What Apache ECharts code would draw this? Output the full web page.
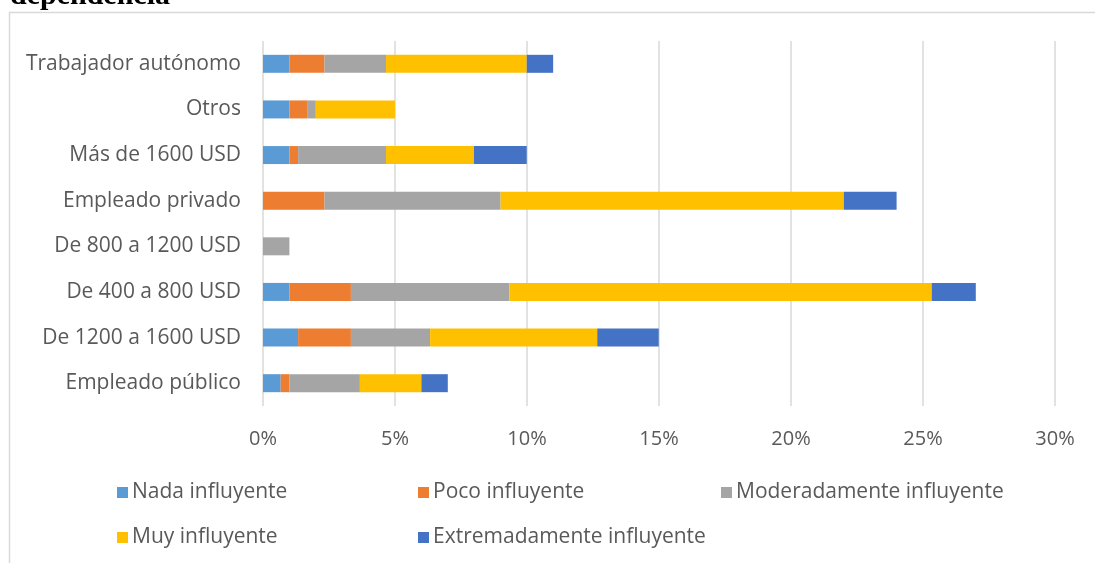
<!DOCTYPE html>
<html>
<head>
<meta charset="utf-8">
<title>Influencia por tipo de empleo e ingreso</title>
<script src="https://cdn.jsdelivr.net/npm/echarts@6/dist/echarts.min.js"></script>
<style>
  html, body { margin: 0; padding: 0; background: #ffffff; }
  #chart { width: 1095px; height: 563px; }
</style>
</head>
<body>
<div id="chart"></div>
<script>
// Categories listed from the bottom of the chart to the top
const categories = [
  'Empleado público',
  'De 1200 a 1600 USD',
  'De 400 a 800 USD',
  'De 800 a 1200 USD',
  'Empleado privado',
  'Más de 1600 USD',
  'Otros',
  'Trabajador autónomo'
];

// Shares (%) per level of influence, same order as categories
const nadaInfluyente          = [0.67, 1.33, 1.00, 0,    0,     1.00, 1.00, 1.00];
const pocoInfluyente          = [0.33, 2.00, 2.33, 0,    2.33,  0.33, 0.67, 1.33];
const moderadamenteInfluyente = [2.67, 3.00, 6.00, 1.00, 6.67,  3.33, 0.33, 2.33];
const muyInfluyente           = [2.33, 6.33, 16.0, 0,    13.00, 3.33, 3.00, 5.33];
const extremadamenteInfluyente= [1.00, 2.33, 1.67, 0,    2.00,  2.00, 0,    1.00];

const seriesNames = [
  'Nada influyente',
  'Poco influyente',
  'Moderadamente influyente',
  'Muy influyente',
  'Extremadamente influyente'
];
const seriesData = [
  nadaInfluyente,
  pocoInfluyente,
  moderadamenteInfluyente,
  muyInfluyente,
  extremadamenteInfluyente
];
const seriesColors = ['#5B9BD5', '#ED7D31', '#A5A5A5', '#FFC000', '#4472C4'];

// Percentage axis
const xMin = 0, xMax = 30, xStep = 5;

const labelFont = '"Open Sans", "Noto Sans", sans-serif';
const textGray = '#595959';

const chart = echarts.init(document.getElementById('chart'), null, { renderer: 'canvas' });

// Legend laid out in fixed columns, two rows
const legendSlots = [
  { left: 117, top: 482 },
  { left: 418, top: 482 },
  { left: 721, top: 482 },
  { left: 117, top: 527 },
  { left: 418, top: 527 }
];

const legends = seriesNames.map((name, i) => ({
  data: [name],
  left: legendSlots[i].left,
  top: legendSlots[i].top,
  padding: 0,
  orient: 'horizontal',
  icon: 'rect',
  itemWidth: 11,
  itemHeight: 11,
  itemGap: 5,
  selectedMode: false,
  textStyle: { color: textGray, fontSize: 21, fontFamily: labelFont, padding: [0, 0, 0, -1] }
}));

chart.setOption({
  animation: false,
  backgroundColor: '#ffffff',
  graphic: [
    {
      type: 'rect',
      shape: { x: 9.5, y: 12.5, width: 1200, height: 700 },
      style: { fill: null, stroke: '#d9d9d9', lineWidth: 1.5 },
      silent: true,
      z: 0
    },
    {
      type: 'text',
      left: 10,
      top: -19,
      style: {
        text: 'dependencia',
        font: 'bold 30px "Liberation Serif", "DejaVu Serif", serif',
        fill: '#000000'
      },
      silent: true
    }
  ],
  legend: legends,
  grid: {
    left: 263,
    right: 40,
    top: 41,
    bottom: 157,
    containLabel: false
  },
  xAxis: {
    type: 'value',
    min: xMin,
    max: xMax,
    interval: xStep,
    axisLine: { show: false },
    axisTick: { show: false },
    splitLine: { show: true, lineStyle: { color: '#d9d9d9', width: 1.5 } },
    axisLabel: {
      formatter: '{value}%',
      color: textGray,
      fontSize: 20,
      fontFamily: labelFont,
      margin: 23
    }
  },
  yAxis: {
    type: 'category',
    data: categories,
    axisLine: { show: false },
    axisTick: { show: false },
    splitLine: { show: false },
    axisLabel: {
      color: textGray,
      fontSize: 21,
      fontFamily: labelFont,
      margin: 22,
      padding: [3, 0, 0, 0]
    }
  },
  series: seriesNames.map((name, i) => ({
    name: name,
    type: 'bar',
    stack: 'total',
    data: seriesData[i],
    barWidth: 18,
    itemStyle: { color: seriesColors[i] },
    emphasis: { disabled: true }
  }))
});
</script>
</body>
</html>
